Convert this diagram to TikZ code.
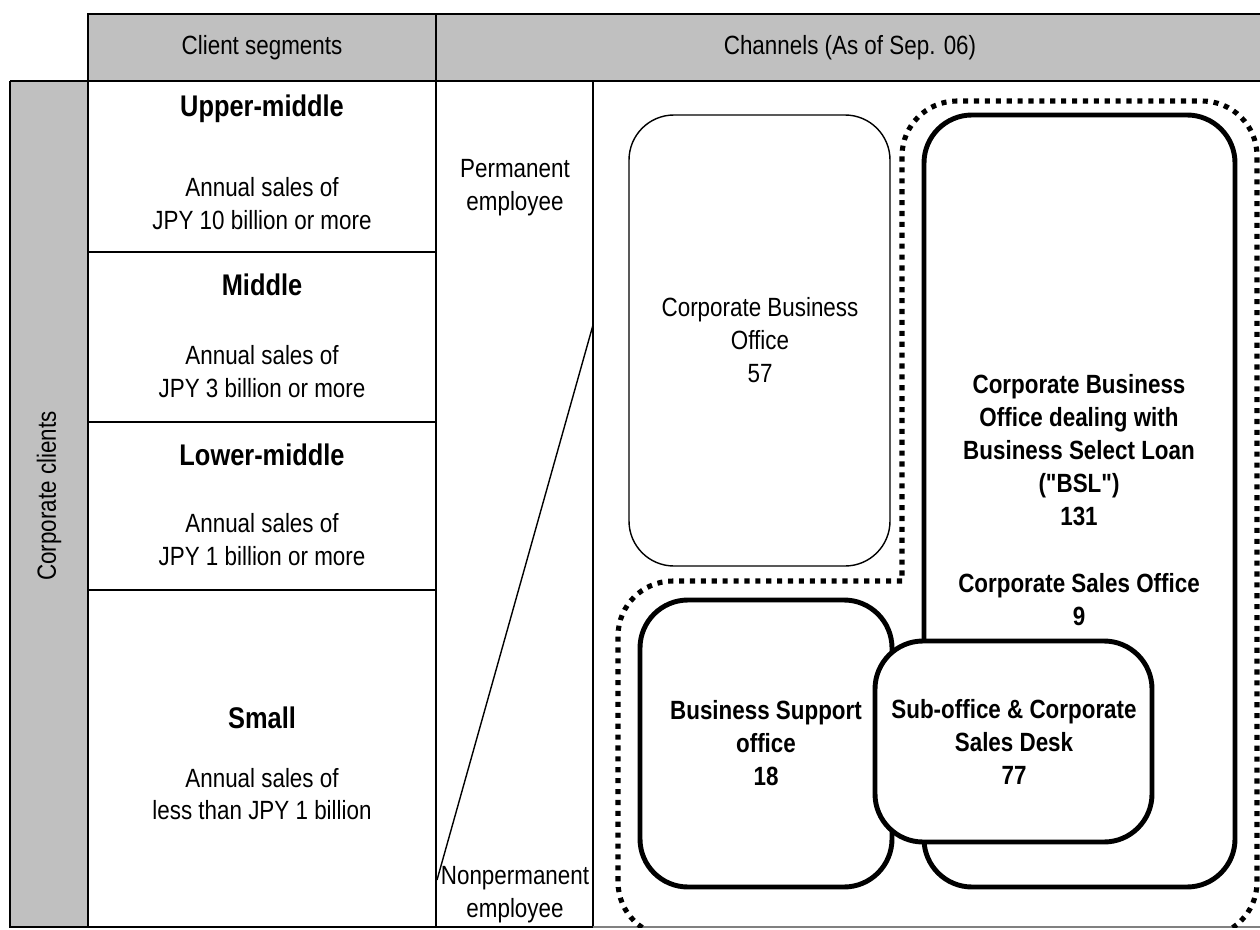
\documentclass[tikz,border=0pt]{standalone}
\usepackage{fontspec}
\setmainfont{Liberation Sans}[FakeStretch=0.85, Ligatures=TeXOff]
\usetikzlibrary{positioning}
\definecolor{hdrgray}{RGB}{192,192,192}

\begin{document}
\begin{tikzpicture}[x=0.02cm, y=-0.02cm,
    txt/.style={align=center, inner sep=0pt, font=\fontsize{15}{18.7}\selectfont},
    bold/.style={txt, font=\fontsize{15}{18.7}\selectfont\bfseries},
    segname/.style={txt, font=\fontsize{17}{20}\selectfont\bfseries},
    grid/.style={line width=1.6pt},
    office/.style={line width=2.8pt, rounded corners=0.96cm, fill=white},
    ring/.style={line width=2.9pt, dash pattern=on 2.9pt off 3.3pt, rounded corners=1.1cm}]
    \useasboundingbox (0,0) rectangle (1260,929);

    % header row and client column
    \fill[hdrgray] (88,14) rectangle (1262,81);
    \fill[hdrgray] (10,81) rectangle (88,927);
    \draw[grid] (1262,14) -- (88,14) -- (88,81);
    \draw[grid] (436,14) -- (436,81);
    \draw[grid] (10,81) -- (1262,81);
    \draw[grid] (593,927) -- (10,927) -- (10,81);
    \draw[grid] (88,81) -- (88,927);
    \draw[grid] (436,81) -- (436,927);
    \draw[grid] (593,81) -- (593,927);
    \draw[gray, line width=0.6pt] (593,927) -- (1262,927);
    \foreach \y in {252,422,590}
        \draw[grid] (88,\y) -- (436,\y);

    \node[txt] (hseg) at (262,48) {Client segments};
    \node[txt] (hchan) at (850,48) {Channels (As of Sep. 06)};
    \node[txt, rotate=90] (clients) at (49,496) {Corporate clients};

    % segments
    \node[segname] (upper) at (262,109) {Upper-middle};
    \node[txt] (uppersales) at (262,204) {Annual sales of\\JPY 10 billion or more};
    \node[segname] (middle) at (262,285) {Middle};
    \node[txt] (middlesales) at (262,372) {Annual sales of\\JPY 3 billion or more};
    \node[segname] (lower) at (262,455) {Lower-middle};
    \node[txt] (lowersales) at (262,540) {Annual sales of\\JPY 1 billion or more};
    \node[segname] (small) at (262,718) {Small};
    \node[txt] (smallsales) at (262,794) {Annual sales of\\less than JPY 1 billion};

    % employees
    \node[txt] (perm) at (515,188) {Permanent\\employee};
    \node[txt] (nonperm) at (515,895) {Nonpermanent\\employee};
    \coordinate (fanlow) at (437,880);
    \coordinate (fanhigh) at (593,325);
    \draw[line width=0.8pt] (fanlow) -- (fanhigh);

    % channels
    \draw[line width=0.8pt, rounded corners=0.9cm] (629,115) rectangle (890,566);
    \node[txt] (cbo) at (760,340) {Corporate Business\\Office\\57};

    \begin{scope}
        \clip (593,81) rectangle (1262,927);
        \draw[ring] (902,581) -- (618,581) -- (618,937) -- (1257,937)
            -- (1257,101) -- (902,101) -- (902,581);
    \end{scope}

    \draw[office] (640,600) rectangle (892,887);
    \draw[office] (924,115) rectangle (1235,887);
    \draw[office] (875,641) rectangle (1152,842);

    \node[bold] (bsl) at (1079,450) {Corporate Business\\Office dealing with\\Business Select Loan\\("BSL")\\131};
    \node[bold] (cso) at (1079,600) {Corporate Sales Office\\9};
    \node[bold] (bso) at (766,743) {Business Support\\office\\18};
    \node[bold] (sub) at (1014,742) {Sub-office \& Corporate\\Sales Desk\\77};
\end{tikzpicture}
\end{document}
